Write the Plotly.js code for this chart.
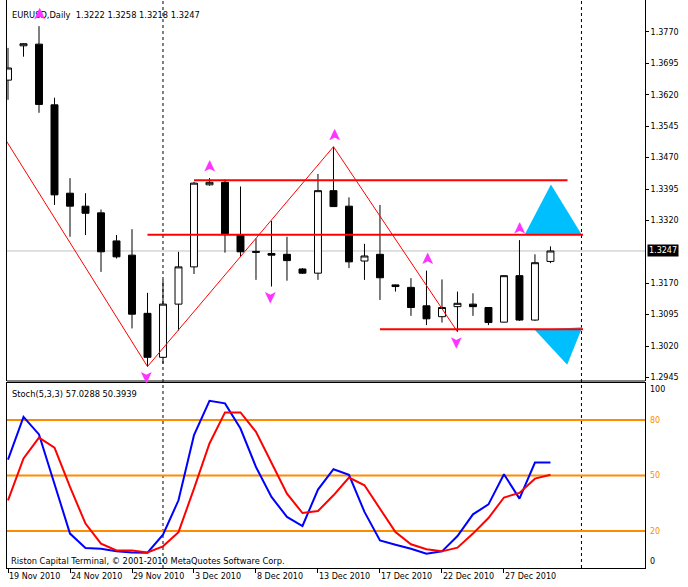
<!DOCTYPE html>
<html><head><meta charset="utf-8">
<script src="https://cdn.plot.ly/plotly-3.0.1.min.js"></script>
<style>html,body{margin:0;padding:0;background:#fff}</style>
</head><body><div id="chart" style="width:688px;height:587px"></div>
<script>
// ---- data ----
const bars = [0,1,2,3,4,5,6,7,8,9,10,11,12,13,14,15,16,17,18,19,20,21,22,23,24,25,26,27,28,29,30,31,32,33,34,35];
const openP  = [1.3655,1.3737,1.3741,1.3596,1.3385,1.3354,1.3338,1.3271,1.3237,1.3098,1.2993,1.3120,1.3209,1.3405,1.3411,1.3285,1.3246,1.3241,1.3239,1.3204,1.3194,1.3391,1.3354,1.3223,1.3239,1.3166,1.3160,1.3116,1.3090,1.3114,1.3120,1.3112,1.3077,1.3188,1.3082,1.3222];
const highP  = [1.3732,1.3743,1.3784,1.3613,1.3421,1.3385,1.3346,1.3285,1.3299,1.3147,1.3178,1.3245,1.3412,1.3421,1.3418,1.3401,1.3277,1.3319,1.3281,1.3206,1.3431,1.3496,1.3375,1.3264,1.3357,1.3167,1.3182,1.3200,1.3179,1.3150,1.3146,1.3113,1.3189,1.3273,1.3239,1.3258];
const lowP   = [1.3608,1.3711,1.3577,1.3357,1.3281,1.3285,1.3197,1.3229,1.3062,1.2971,1.2978,1.3057,1.3192,1.3403,1.3243,1.3233,1.3178,1.3162,1.3176,1.3192,1.3178,1.3352,1.3206,1.3178,1.3130,1.3150,1.3092,1.3070,1.3076,1.3054,1.3092,1.3070,1.3076,1.3080,1.3080,1.3218];
const closeP = [1.3684,1.3742,1.3597,1.3381,1.3354,1.3337,1.3245,1.3233,1.3096,1.2993,1.3120,1.3209,1.3409,1.3411,1.3288,1.3245,1.3244,1.3237,1.3224,1.3194,1.3391,1.3353,1.3221,1.3235,1.3183,1.3162,1.3112,1.3085,1.3112,1.3122,1.3114,1.3076,1.3188,1.3082,1.3219,1.3247];

const stochMain   = [58.6,81.7,72.2,45.0,18.6,10.8,10.4,9.0,8.4,8.3,18.0,36.6,71.8,90.4,89.0,75.4,54.6,38.4,27.6,22.7,42.4,53.4,50.4,30.3,14.9,12.6,10.4,7.7,9.0,17.3,29.0,34.4,50.7,37.5,57.0,57.0288];
const stochSignal = [36.6,59.2,70.5,65.1,43.8,24.0,13.2,9.5,9.5,8.4,11.7,19.4,42.9,67.3,84.1,84.1,73.6,56.5,40.2,29.7,30.8,39.3,48.9,44.7,32.1,19.4,12.8,10.1,9.0,11.0,18.6,27.0,38.1,40.6,48.3,50.3939];
const stochLevels = [80, 50, 20];

const tickBars   = [0,4,8,12,16,20,24,28,32];
const tickLabels = ['19 Nov 2010','24 Nov 2010','29 Nov 2010','3 Dec 2010','8 Dec 2010','13 Dec 2010','17 Dec 2010','22 Dec 2010','27 Dec 2010'];
const priceTicks = [1.2945,1.3020,1.3095,1.3170,1.3320,1.3395,1.3470,1.3545,1.3620,1.3695,1.3770];
const separatorBars = [10, 37];

const zigzagBars   = [-3, 9, 21, 29];
const zigzagPrices = [1.3681, 1.2971, 1.3496, 1.3054];

const levelPrices = [1.3416, 1.3286, 1.3060];
const levelFrom   = [12, 9, 24];
const levelTo     = [36.1, 37.1, 37.1];

const fractalUpBars   = [2, 13, 21, 27, 33];
const fractalDownBars = [9, 17, 29];

const targetUpX   = [33.35, 35.03, 37.0];
const targetUpY   = [1.3287, 1.3406, 1.3287];
const targetDownX = [34.0, 36.08, 37.05];
const targetDownY = [1.3058, 1.2975, 1.3065];

// ---- layout helpers ----
const FONT = 'DejaVu Sans, Verdana, sans-serif';
const topDom = [0.3292, 1];
const botDom = [0, 0.3257];
const last = bars.length - 1;

const traces = [];
traces.push({type:'scatter', x:targetUpX, y:targetUpY, fill:'toself', fillcolor:'#00BFFF', mode:'lines', line:{width:0, color:'#00BFFF'}, xaxis:'x', yaxis:'y', hoverinfo:'skip'});
traces.push({type:'scatter', x:targetDownX, y:targetDownY, fill:'toself', fillcolor:'#00BFFF', mode:'lines', line:{width:0, color:'#00BFFF'}, xaxis:'x', yaxis:'y', hoverinfo:'skip'});
traces.push({
  type:'candlestick', x:bars, open:openP, high:highP, low:lowP, close:closeP,
  xaxis:'x', yaxis:'y', whiskerwidth:0, hoverinfo:'skip',
  increasing:{line:{color:'#000', width:1}, fillcolor:'#fff'},
  decreasing:{line:{color:'#000', width:1}, fillcolor:'#000'}
});
traces.push({type:'scatter', mode:'lines', x:zigzagBars, y:zigzagPrices, line:{color:'#FF0000', width:1}, xaxis:'x', yaxis:'y', hoverinfo:'skip'});
for (let i = 0; i < levelPrices.length; i++) {
  traces.push({type:'scatter', mode:'lines', x:[levelFrom[i], levelTo[i]], y:[levelPrices[i], levelPrices[i]], line:{color:'#FF0000', width:2}, xaxis:'x', yaxis:'y', hoverinfo:'skip'});
}
traces.push({type:'scatter', mode:'lines', x:bars, y:stochMain, line:{color:'#0000FF', width:2}, xaxis:'x', yaxis:'y2', hoverinfo:'skip'});
traces.push({type:'scatter', mode:'lines', x:bars, y:stochSignal, line:{color:'#FF0000', width:2}, xaxis:'x', yaxis:'y2', hoverinfo:'skip'});

const shapes = [];
separatorBars.forEach(b => shapes.push({type:'line', xref:'x', yref:'paper', x0:b, x1:b, y0:0, y1:1, line:{color:'#000', width:1, dash:'dot'}, layer:'below'}));
shapes.push({type:'line', xref:'paper', yref:'y', x0:0, x1:1, y0:closeP[last], y1:closeP[last], line:{color:'#C0C0C0', width:1}, layer:'below'});
shapes.push({type:'line', xref:'paper', yref:'paper', x0:0, x1:1, y0:topDom[0], y1:topDom[0], line:{color:'#000', width:1}});
stochLevels.forEach(v => shapes.push({type:'line', xref:'paper', yref:'y2', x0:0, x1:1, y0:v, y1:v, line:{color:'#FF8C00', width:2}, layer:'below'}));

const annotations = [];
const f4 = v => v.toFixed(4);
annotations.push({xref:'paper', yref:'paper', x:0, y:1, xanchor:'left', yanchor:'top', xshift:3, yshift:-8, showarrow:false,
  text:'EURUSD,Daily\u00a0\u00a0' + [openP[last], highP[last], lowP[last], closeP[last]].map(f4).join(' '),
  font:{family:FONT, size:8.3, color:'#000'}});
annotations.push({xref:'paper', yref:'y2 domain', x:0, y:1, xanchor:'left', yanchor:'top', xshift:3, yshift:-4, showarrow:false,
  text:'Stoch(5,3,3) ' + stochMain[last].toFixed(4) + ' ' + stochSignal[last].toFixed(4),
  font:{family:FONT, size:8.3, color:'#000'}});
annotations.push({xref:'paper', yref:'y2 domain', x:0, y:0, xanchor:'left', yanchor:'bottom', xshift:2, yshift:0, showarrow:false,
  text:'Riston Capital Terminal, \u00a9 2001-2010 MetaQuotes Software Corp.',
  font:{family:FONT, size:8.3, color:'#000'}});
annotations.push({xref:'paper', yref:'y', x:1, y:closeP[last], xanchor:'left', yanchor:'middle', xshift:2, showarrow:false,
  text:f4(closeP[last]), bgcolor:'#000', borderpad:1, font:{family:FONT, size:8, color:'#fff'}});
annotations.push({xref:'paper', yref:'y2', x:1, y:100, xanchor:'left', yanchor:'top', xshift:3, showarrow:false, text:'100', font:{family:FONT, size:8, color:'#000'}});
annotations.push({xref:'paper', yref:'y2', x:1, y:0, xanchor:'left', yanchor:'bottom', xshift:3, showarrow:false, text:'0', font:{family:FONT, size:8, color:'#000'}});
stochLevels.forEach(v => annotations.push({xref:'paper', yref:'y2', x:1, y:v, xanchor:'left', yanchor:'middle', xshift:3, showarrow:false, text:String(v), font:{family:FONT, size:8, color:'#FF8C00'}}));
fractalUpBars.forEach(b => annotations.push({xref:'x', yref:'y', x:b, y:highP[b], yshift:12, showarrow:false, text:'\u27A4', textangle:-90, font:{family:'DejaVu Sans', size:17, color:'#FF33FF'}}));
fractalDownBars.forEach(b => annotations.push({xref:'x', yref:'y', x:b, y:lowP[b], yshift:-11, showarrow:false, text:'\u27A4', textangle:90, font:{family:'DejaVu Sans', size:17, color:'#FF33FF'}}));

const layout = {
  width:688, height:587,
  margin:{l:7, r:43, t:0, b:19},
  paper_bgcolor:'#fff', plot_bgcolor:'#fff',
  showlegend:false, boxgap:0.36,
  font:{family:FONT, size:8, color:'#000'},
  xaxis:{domain:[0,1], range:[-0.065, 41.1], anchor:'y2', showgrid:false, zeroline:false,
    tickvals:tickBars, ticktext:tickLabels, ticks:'outside', ticklen:4, tickcolor:'#000', tickangle:0,
    ticklabelposition:'outside right', tickfont:{family:FONT, size:8, color:'#000'},
    showline:true, linecolor:'#000', linewidth:1, mirror:true, rangeslider:{visible:false}, fixedrange:true},
  yaxis:{domain:topDom, range:[1.29364, 1.38464], side:'right', showgrid:false, zeroline:false,
    tickvals:priceTicks, tickformat:'.4f', ticks:'outside', ticklen:3, tickcolor:'#000',
    tickfont:{family:FONT, size:8, color:'#000'}, showline:true, linecolor:'#000', linewidth:1, mirror:true, fixedrange:true},
  yaxis2:{domain:botDom, range:[0, 100], side:'right', showgrid:false, zeroline:false, showticklabels:false, ticks:'',
    showline:true, linecolor:'#000', linewidth:1, mirror:true, fixedrange:true},
  shapes:shapes, annotations:annotations
};
Plotly.newPlot('chart', traces, layout, {staticPlot:true, displayModeBar:false});
</script></body></html>
